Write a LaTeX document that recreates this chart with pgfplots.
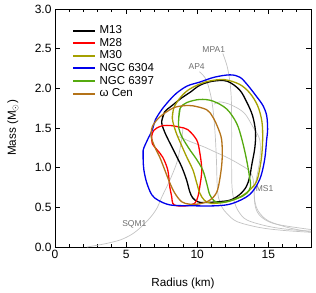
\documentclass[border=0pt]{standalone}
\usepackage{pgfplots}
\pgfplotsset{compat=1.18}
\usepackage{fontspec}
\setmainfont{Liberation Sans}
\definecolor{cM30}{RGB}{165,160,0}
\definecolor{cN6397}{RGB}{85,170,15}
\definecolor{cOmega}{RGB}{180,115,25}
\definecolor{cBlue}{RGB}{0,0,235}
\definecolor{eosline}{RGB}{195,195,195}
\definecolor{eostext}{RGB}{110,110,110}
\begin{document}
\begin{tikzpicture}
\path[use as bounding box] (0pt,0pt) rectangle (316pt,-292pt);
\begin{axis}[
  at={(55pt,-247pt)}, anchor=south west,
  scale only axis, width=256pt, height=238pt,
  xmin=0, xmax=18, ymin=0, ymax=3,
  axis line style={line width=1pt},
  every tick/.style={black, line width=0.8pt},
  tick align=inside,
  major tick length=5pt, minor tick length=3pt,
  xtick={0,5,10,15},
  minor xtick={1,2,3,4,6,7,8,9,11,12,13,14,16,17},
  ytick={0,0.5,1,1.5,2,2.5,3},
  yticklabel style={/pgf/number format/.cd,fixed,fixed zerofill,precision=1},
  /pgf/number format/assume math mode=true,
  tick label style={font=\fontsize{12}{14}\selectfont},
  xlabel={Radius (km)}, ylabel={Mass (M$_\odot$)},
  label style={font=\fontsize{11.7}{14}\selectfont},
  xlabel style={at={(axis description cs:0.5,-0.155)}, anchor=center},
  ylabel style={at={(axis description cs:-0.164,0.5)}, anchor=center},
  legend style={draw=none, fill=none, at={(axis description cs:0.066,0.935)}, anchor=north west,
    font=\fontsize{11.5}{13}\selectfont, row sep=0.6pt, column sep=3pt, inner sep=0pt,
    nodes={inner sep=0.5pt, text height=8.5pt, text depth=2.5pt}},
  legend cell align=left,
  legend image code/.code={\draw[#1, line width=2pt] (0pt,0pt) -- (22pt,0pt);},
  every axis plot/.append style={smooth, tension=0.55},
]
% ---- EOS curves (grey) ----
\addplot[eosline, line width=0.7pt, forget plot] coordinates {
(2.25,0) (3.5,0.04) (4.6,0.09) (5.4,0.16) (6.04,0.25) (6.74,0.38) (7.2,0.5) (7.51,0.63) (8.07,0.84) (8.56,1.06) (8.77,1.22) (8.91,1.36) (9.0,1.5)};
\addplot[eosline, line width=0.7pt, forget plot] coordinates {
(8.6,1.40) (9.5,1.33) (10.5,1.26) (11.23,1.20) (12.2,1.12) (13.0,1.04) (13.6,0.97) (13.9,0.88) (14.0,0.72) (14.05,0.58) (14.3,0.45) (15.0,0.33) (16.5,0.24) (18,0.19)};
\addplot[eosline, line width=0.7pt, forget plot] coordinates {
(10.15,2.21) (10.6,2.12) (10.9,1.95) (11.1,1.75) (11.25,1.45) (11.35,1.1) (11.4,0.8) (11.5,0.62) (11.75,0.5) (12.1,0.42) (12.8,0.32) (14.4,0.245) (16,0.21) (18,0.185)};
\addplot[eosline, line width=0.7pt, forget plot] coordinates {
(11.8,2.44) (12.1,2.28) (12.3,2.08) (12.4,1.85) (12.42,1.5) (12.42,1.0) (12.45,0.75) (12.6,0.58) (12.9,0.45) (13.5,0.34) (15.0,0.26) (16.5,0.22) (18,0.20)};
\addplot[eosline, line width=0.7pt, forget plot] coordinates {
(11.2,1.80) (11.58,1.83) (12.4,1.79) (13.3,1.69) (13.9,1.52) (14.4,1.35) (14.4,1.1) (14.15,0.85) (14.0,0.7) (14.1,0.5) (14.5,0.38) (15.5,0.29) (18,0.22)};
\node[font=\fontsize{8.5}{10}\selectfont, text=eostext] at (axis cs:5.58,0.29) {SQM1};
\node[font=\fontsize{8.5}{10}\selectfont, text=eostext] at (axis cs:9.96,2.28) {AP4};
\node[font=\fontsize{8.5}{10}\selectfont, text=eostext] at (axis cs:11.16,2.49) {MPA1};
\node[font=\fontsize{8.5}{10}\selectfont, text=eostext] at (axis cs:14.74,0.74) {MS1};
% ---- contours ----
\addplot[black, line width=1.3pt] coordinates {
(7.5,1.58) (7.7,1.70) (8.28,1.79) (8.91,1.88) (9.5,1.95) (10.2,2.04) (11.1,2.09) (12.1,2.09) (12.98,1.98) (13.5,1.82) (13.9,1.65) (14.1,1.45) (14.05,1.25) (13.85,1.05) (13.68,0.88) (13.45,0.76) (12.98,0.66) (12.3,0.59) (11.4,0.57) (10.5,0.56) (10.04,0.57) (9.68,0.62) (9.47,0.70) (9.26,0.84) (8.91,1.01) (8.42,1.19) (7.86,1.39) (7.6,1.50) (7.5,1.58) (7.7,1.70)};
\addlegendentry{M13}
\addplot[red, line width=1.3pt] coordinates {
(6.85,1.30) (6.8,1.40) (6.95,1.47) (7.16,1.50) (7.58,1.53) (8.2,1.53) (8.77,1.51) (9.33,1.48) (9.96,1.35) (10.18,1.19) (10.32,0.97) (10.18,0.76) (10.04,0.63) (9.82,0.55) (9.26,0.52) (8.56,0.52) (8.28,0.55) (8.21,0.63) (8.07,0.76) (7.93,0.97) (7.58,1.13) (7.2,1.22) (6.85,1.30) (6.8,1.40)};
\addlegendentry{M28}
\addplot[cM30, line width=1.3pt] coordinates {
(8.25,1.62) (8.35,1.75) (8.75,1.87) (9.3,1.97) (10.0,2.04) (10.8,2.09) (11.9,2.11) (12.98,2.05) (13.7,1.94) (14.25,1.78) (14.55,1.58) (14.6,1.35) (14.5,1.10) (14.2,0.84) (13.7,0.72) (13.0,0.63) (12.1,0.57) (11.0,0.55) (10.5,0.59) (10.18,0.68) (9.96,0.81) (9.7,0.97) (9.3,1.12) (8.9,1.28) (8.5,1.45) (8.25,1.62) (8.35,1.75)};
\addlegendentry{M30}
\addplot[cBlue, line width=1.3pt] coordinates {
(6.2,1.10) (6.2,1.22) (6.5,1.35) (6.85,1.48) (7.05,1.60) (7.5,1.73) (8.05,1.85) (8.55,1.94) (9.3,2.03) (10.2,2.08) (11.2,2.14) (12.3,2.17) (13.0,2.14) (13.55,2.04) (14.2,1.89) (14.6,1.79) (14.88,1.66) (14.95,1.48) (14.88,1.35) (14.74,1.10) (14.39,0.85) (13.68,0.66) (12.49,0.55) (11.37,0.52) (9.5,0.52) (8.1,0.53) (7.25,0.59) (6.8,0.66) (6.45,0.81) (6.25,0.97) (6.2,1.10) (6.2,1.22)};
\addlegendentry{NGC 6304}
\addplot[cN6397, line width=1.3pt] coordinates {
(8.7,1.62) (8.8,1.75) (9.26,1.82) (10.18,1.86) (11.09,1.84) (12.07,1.74) (12.77,1.56) (13.15,1.35) (13.47,1.10) (13.68,0.88) (13.75,0.76) (13.5,0.68) (13.19,0.64) (12.28,0.58) (11.6,0.56) (11.2,0.58) (10.88,0.66) (10.67,0.80) (10.39,0.97) (9.9,1.12) (9.5,1.22) (8.95,1.38) (8.7,1.50) (8.7,1.62) (8.8,1.75)};
\addlegendentry{NGC 6397}
\addplot[cOmega, line width=1.3pt] coordinates {
(6.75,1.40) (6.85,1.52) (7.37,1.64) (8.28,1.75) (9.0,1.78) (9.68,1.78) (10.67,1.73) (11.09,1.64) (11.44,1.51) (11.72,1.35) (11.75,1.10) (11.6,0.87) (11.37,0.69) (10.88,0.59) (10.18,0.545) (9.47,0.54) (8.91,0.57) (8.42,0.68) (8.07,0.81) (7.72,0.97) (7.37,1.13) (7.02,1.26) (6.75,1.40) (6.85,1.52)};
\addlegendentry{ω Cen}
\end{axis}
\end{tikzpicture}
\end{document}
